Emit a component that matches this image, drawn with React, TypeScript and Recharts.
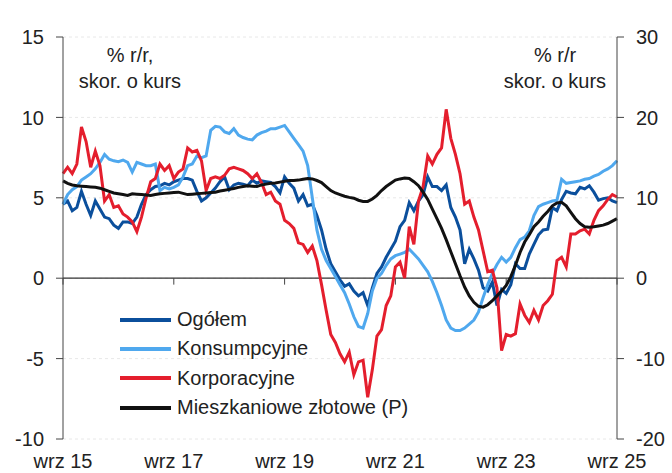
import { CartesianGrid, Line, LineChart, ReferenceLine, XAxis, YAxis } from 'recharts'

// monthly, wrz 2015 .. wrz 2025 (121 points), % r/r
const ogolem = [
  4.6, 4.8, 4.2, 4.4, 5.4, 4.6, 3.9, 4.8, 4.3, 3.8, 3.7, 3.3, 3.1, 3.5, 3.5, 3.4, 3.8, 4.6, 5.2, 5.5,
  5.7, 5.75, 5.9, 5.8, 6.0, 6.1, 6.2, 6.2, 6.1, 5.4, 4.8, 5.0, 5.3, 5.6, 6.0, 6.3, 5.5, 5.8, 5.9, 5.85,
  5.75, 6.1, 5.9, 6.05, 6.0, 5.95, 5.7, 5.3, 6.3, 5.9, 5.6, 4.8, 5.2, 4.5, 4.6, 3.9, 3.0, 1.8, 0.9, 0.4,
  -0.1, -0.5, -0.35, -0.8, -1.1, -0.9, -1.7, -0.6, 0.3, 0.7, 1.3, 1.8, 2.3, 3.2, 3.6, 4.7, 4.2, 4.8, 5.2, 6.3,
  5.7, 5.7, 5.45, 5.8, 4.4, 3.8, 3.0, 0.9, 1.8, 1.2, 0.5, -0.6, -0.8, -0.25, -1.7, -0.7, -0.95, -0.4, 0.9, 0.6,
  0.6, 1.5, 2.1, 2.7, 3.0, 3.05, 4.4, 4.2, 4.9, 5.4, 5.3, 5.25, 5.65, 5.55, 5.75, 5.35, 4.85, 4.95, 5.0, 4.8,
  4.7,
]

const konsumpcyjne = [
  4.6, 5.2, 5.5, 5.7, 6.1, 6.3, 6.5, 6.8, 7.2, 7.7, 7.4, 7.3, 7.25, 7.35, 7.2, 6.6, 7.2, 7.1, 7.0, 7.0,
  7.1, 5.45, 5.65, 5.55, 5.65, 5.8, 6.3, 7.0, 7.1, 7.6, 7.5, 7.6, 9.2, 9.45, 9.4, 9.1, 9.0, 9.3, 8.9, 8.75,
  8.65, 8.6, 8.9, 9.05, 9.15, 9.3, 9.3, 9.4, 9.5, 9.1, 8.7, 8.3, 7.9, 7.0, 5.0, 3.0, 1.8, 1.1, 0.6, 0.1,
  -0.4, -0.9, -1.6, -2.4, -3.0, -3.1, -2.2, -0.8, 0.0, 0.3, 0.8, 1.2, 1.4, 1.5, 1.6, 1.8, 1.5, 1.2, 0.8, 0.4,
  -0.2, -0.9, -1.7, -2.6, -3.1, -3.25, -3.25, -3.1, -2.85, -2.6, -2.1, -1.2, -0.4, 0.3, 0.85, 1.3, 1.0, 1.3, 1.9, 2.4,
  2.55, 2.95, 3.9, 4.45, 4.6, 4.7, 4.8, 4.85, 6.15, 5.9, 5.95, 6.0, 6.05, 6.15, 6.2, 6.35, 6.45, 6.65, 6.8, 7.0,
  7.3,
]

const korporacyjne = [
  6.5, 6.9, 6.5, 7.1, 9.4, 8.5, 6.9, 7.9, 7.0, 4.8, 5.2, 4.4, 4.5, 4.0, 3.8, 3.5, 2.9, 3.8, 5.0, 6.0,
  6.2, 7.1, 6.7, 7.0, 6.2, 6.6, 6.8, 8.1, 7.85, 7.95, 7.3, 5.45, 6.2, 6.3, 6.2, 6.4, 6.8, 6.9, 6.8, 6.7,
  6.5, 6.2, 6.5, 5.95, 5.2, 5.35, 4.8, 4.6, 3.6, 3.4, 3.1, 2.2, 2.1, 1.6, 2.0, 1.1, -0.4, -2.0, -3.5, -4.0,
  -4.7, -5.2, -4.6, -6.0, -5.2, -5.1, -7.4, -5.7, -3.6, -3.2, -1.7, -1.1, 0.7, 1.0, 0.0, 3.2, 2.1, 4.8, 5.7, 7.6,
  7.1, 7.7, 8.1, 10.5, 8.7, 7.7, 6.5, 4.6, 4.8, 3.8, 3.0, 1.7, 0.4, 0.5, -0.6, -4.5, -3.5, -3.6, -3.45, -1.6,
  -2.3, -2.75, -2.0, -2.6, -1.7, -1.4, -1.0, 1.1, 1.3, 0.7, 2.75, 2.75, 2.95, 3.05, 2.75, 3.6, 4.2, 4.5, 4.9, 5.2,
  5.05,
]

// prawa oś
const mieszkaniowe = [
  12.1, 11.8, 11.6, 11.5, 11.45, 11.4, 11.35, 11.3, 11.2, 11.0, 10.8, 10.6, 10.5, 10.4, 10.3, 10.5, 10.45, 10.4, 10.35, 10.3,
  10.4, 10.5, 10.55, 10.6, 10.65, 10.7, 10.55, 10.4, 10.45, 10.5, 10.55, 10.6, 10.65, 10.7, 10.85, 10.95, 11.05, 11.15, 11.3, 11.4,
  11.5, 11.45, 11.4, 11.6, 11.7, 11.8, 11.85, 11.95, 12.05, 12.15, 12.15, 12.2, 12.3, 12.4, 12.35, 12.15, 11.9, 11.4, 10.9, 10.6,
  10.4, 10.2, 10.05, 9.95, 9.7, 9.55, 9.55, 9.85, 10.3, 10.9, 11.4, 11.8, 12.2, 12.35, 12.45, 12.4, 12.0, 11.5, 10.7, 9.8,
  8.6, 7.4, 6.2, 4.8, 3.3, 1.8, 0.3, -1.1, -2.2, -3.0, -3.5, -3.6, -3.3, -2.8, -2.2, -1.6, -0.9, 0.2, 1.6, 3.2,
  4.5, 5.4, 6.4, 7.0, 7.7, 8.3, 9.0, 9.35, 9.45, 9.0, 8.2, 7.4, 6.8, 6.4, 6.35, 6.4, 6.5, 6.6, 6.8, 7.1,
  7.4,
]

const xTicks = [0, 24, 48, 72, 96, 120]
const xTickLabels = ['wrz 15', 'wrz 17', 'wrz 19', 'wrz 21', 'wrz 23', 'wrz 25']
const leftTicks = [-10, -5, 0, 5, 10, 15]
const rightTicks = [-20, -10, 0, 10, 20, 30]

const series = [
  { key: 'ogolem', name: 'Ogółem', color: '#0b4f9c', axis: 'left' },
  { key: 'konsumpcyjne', name: 'Konsumpcyjne', color: '#4fa8ee', axis: 'left' },
  { key: 'korporacyjne', name: 'Korporacyjne', color: '#e41e2d', axis: 'left' },
  { key: 'mieszkaniowe', name: 'Mieszkaniowe złotowe (P)', color: '#111111', axis: 'right' },
]

const data = ogolem.map((v, i) => ({
  m: i,
  ogolem: v,
  konsumpcyjne: konsumpcyjne[i],
  korporacyjne: korporacyjne[i],
  mieszkaniowe: mieszkaniowe[i],
}))

const FONT = '"Liberation Sans", Arial, sans-serif'
const TEXT = '#222'
const AXIS = '#444'

function LegendBox() {
  return (
    <div style={{ position: 'absolute', left: 120, top: 305, fontFamily: FONT, fontSize: 20, color: TEXT }}>
      {series.map(s => (
        <div key={s.key} style={{ display: 'flex', alignItems: 'center', height: 29.3 }}>
          <span style={{ display: 'inline-block', width: 51, height: 4, background: s.color, marginRight: 6 }} />
          <span>{s.name}</span>
        </div>
      ))}
    </div>
  )
}

export default function App() {
  const tickStyle = { fontFamily: FONT, fontSize: 20, fill: TEXT }
  return (
    <div style={{ position: 'absolute', left: 0, top: 0, width: 672, height: 473, background: '#fff' }}>
      <LineChart width={672} height={473} data={data} margin={{ top: 37, right: 0, bottom: 0, left: 0 }}>
        <CartesianGrid yAxisId="left" vertical={false} stroke="#e8e8e8" strokeDasharray="3 3" />
        <XAxis
          dataKey="m"
          type="number"
          domain={[0, 120]}
          ticks={xTicks}
          tickFormatter={(v: number) => xTickLabels[xTicks.indexOf(v)] ?? ''}
          axisLine={false}
          tickLine={false}
          tickSize={0}
          tickMargin={15}
          height={34}
          tick={tickStyle}
          interval={0}
        />
        <YAxis
          yAxisId="left"
          domain={[-10, 15]}
          ticks={leftTicks}
          width={63}
          stroke={AXIS}
          tickSize={7}
          tickMargin={12}
          tick={tickStyle}
          interval={0}
        />
        <YAxis
          yAxisId="right"
          orientation="right"
          domain={[-20, 30]}
          ticks={rightTicks}
          width={55}
          stroke={AXIS}
          tickSize={7}
          tickMargin={12}
          tick={{ ...tickStyle, textAnchor: 'start' }}
          interval={0}
        />
        <ReferenceLine yAxisId="left" y={0} stroke="#333" strokeWidth={1.2} />
        {xTicks.map(t => (
          <ReferenceLine key={t} yAxisId="left" segment={[{ x: t, y: 0 }, { x: t, y: -0.4 }]} stroke={AXIS} />
        ))}
        {series.map(s => (
          <Line
            key={s.key}
            yAxisId={s.axis}
            type="linear"
            dataKey={s.key}
            name={s.name}
            stroke={s.color}
            strokeWidth={3}
            dot={false}
            isAnimationActive={false}
          />
        ))}
      </LineChart>
      <LegendBox />
      <div style={{ position: 'absolute', left: 30, top: 42, width: 200, textAlign: 'center', fontFamily: FONT, fontSize: 20, lineHeight: '26px', color: TEXT }}>
        % r/r,<br />skor. o kurs
      </div>
      <div style={{ position: 'absolute', left: 455, top: 42, width: 200, textAlign: 'center', fontFamily: FONT, fontSize: 20, lineHeight: '26px', color: TEXT }}>
        % r/r<br />skor. o kurs
      </div>
    </div>
  )
}
